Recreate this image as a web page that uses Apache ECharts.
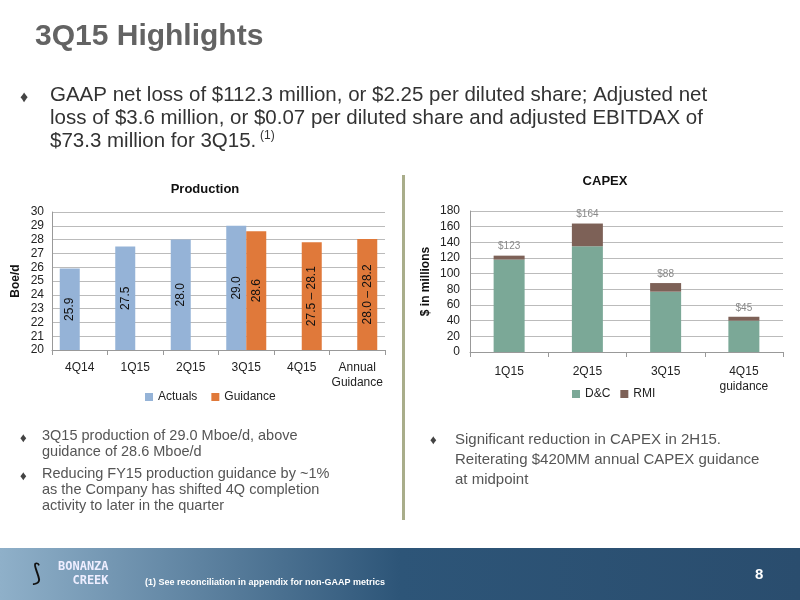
<!DOCTYPE html>
<html>
<head>
<meta charset="utf-8">
<script src="https://cdn.jsdelivr.net/npm/echarts@6/dist/echarts.min.js"></script>
<style>html,body{margin:0;padding:0;background:#fff}#main{width:800px;height:600px}</style>
</head>
<body>
<div id="main"></div>
<script>
// production data (Mboe/d)
var prodCats = ['4Q14', '1Q15', '2Q15', '3Q15', '4Q15', 'Annual\nGuidance'];
var actuals = [25.9, 27.5, 28.0, 29.0, null, null];
var guidance = [null, null, null, 28.6, 27.8, 28.05];
var guidanceLabels = ['', '', '', '28.6', '27.5 – 28.1', '28.0 – 28.2'];

// capex data ($MM)
var capexCats = ['1Q15', '2Q15', '3Q15', '4Q15\nguidance'];
var dc = [118, 135, 77, 40];
var rmi = [5, 29, 11, 5];
var capexTotals = ['$123', '$164', '$88', '$45'];

var chart = echarts.init(document.getElementById('main'));

var FONT = 'Liberation Sans';
var axisTxt = {color: '#222', fontSize: 12, fontFamily: FONT};

var option = {
    animation: false,
    textStyle: {fontFamily: FONT},
    title: [
        {text: 'Production', left: 200, top: 178, textAlign: 'center',
            textStyle: {fontSize: 13, fontWeight: 'bold', color: '#111'}},
        {text: 'CAPEX', left: 600, top: 170, textAlign: 'center',
            textStyle: {fontSize: 13, fontWeight: 'bold', color: '#111'}}
    ],
    legend: [
        {data: ['Actuals', 'Guidance'], left: 140, top: 386, itemWidth: 8, itemHeight: 8,
            icon: 'rect', itemGap: 14, textStyle: {fontSize: 12, color: '#222'}},
        {data: ['D&C', 'RMI'], left: 567, top: 383, itemWidth: 8, itemHeight: 8,
            icon: 'rect', itemGap: 10, textStyle: {fontSize: 12, color: '#222'}}
    ],
    grid: [
        {left: 52, top: 212, width: 333, height: 138},
        {left: 470, top: 211, width: 313, height: 141}
    ],
    xAxis: [
        {type: 'category', gridIndex: 0, data: prodCats,
            axisLine: {lineStyle: {color: '#999'}}, axisTick: {show: true, lineStyle: {color: '#999'}},
            axisLabel: Object.assign({interval: 0, margin: 10, lineHeight: 15}, axisTxt)},
        {type: 'category', gridIndex: 1, data: capexCats,
            axisLine: {lineStyle: {color: '#999'}}, axisTick: {show: true, lineStyle: {color: '#999'}},
            axisLabel: Object.assign({interval: 0, margin: 12, lineHeight: 15}, axisTxt)}
    ],
    yAxis: [
        {type: 'value', gridIndex: 0, min: 20, max: 30, interval: 1,
            name: 'Boe/d', nameLocation: 'middle', nameGap: 30,
            nameTextStyle: {fontWeight: 'bold', fontSize: 12, color: '#111'},
            axisLine: {show: true, lineStyle: {color: '#999'}},
            splitLine: {lineStyle: {color: '#bbb'}},
            axisLabel: Object.assign({margin: 8}, axisTxt)},
        {type: 'value', gridIndex: 1, min: 0, max: 180, interval: 20,
            name: '$ in millions', nameLocation: 'middle', nameGap: 38,
            nameTextStyle: {fontWeight: 'bold', fontSize: 12, color: '#111'},
            axisLine: {show: true, lineStyle: {color: '#999'}},
            splitLine: {lineStyle: {color: '#bbb'}},
            axisLabel: Object.assign({margin: 10}, axisTxt)}
    ],
    series: [
        {name: 'Actuals', type: 'bar', xAxisIndex: 0, yAxisIndex: 0, data: actuals,
            barWidth: 20, barGap: '0%', itemStyle: {color: '#95B3D7'},
            label: {show: true, position: 'inside', rotate: 90, fontSize: 12, color: '#111',
                formatter: function (p) { return p.value.toFixed(1); }}},
        {name: 'Guidance', type: 'bar', xAxisIndex: 0, yAxisIndex: 0, data: guidance,
            barWidth: 20, itemStyle: {color: '#E0793A'},
            label: {show: true, position: 'inside', rotate: 90, fontSize: 12, color: '#111',
                formatter: function (p) { return guidanceLabels[p.dataIndex]; }}},
        {name: 'D&C', type: 'bar', stack: 'c', xAxisIndex: 1, yAxisIndex: 1, data: dc,
            barWidth: 31, itemStyle: {color: '#7BA897'}},
        {name: 'RMI', type: 'bar', stack: 'c', xAxisIndex: 1, yAxisIndex: 1, data: rmi,
            barWidth: 31, itemStyle: {color: '#7D6157'},
            label: {show: true, position: 'top', fontSize: 10, color: '#888', distance: 4,
                formatter: function (p) { return capexTotals[p.dataIndex]; }}}
    ],
    graphic: [
        {type: 'text', left: 35, top: 22, style: {text: '3Q15 Highlights', fontSize: 30, fontWeight: 'bold', fill: '#636363', fontFamily: FONT}},
        {type: 'text', left: 20, top: 90, style: {text: '♦', fontSize: 16, fill: '#444'}},
        {type: 'text', left: 50, top: 84, style: {text: 'GAAP net loss of $112.3 million, or $2.25 per diluted share; Adjusted net\nloss of $3.6 million, or $0.07 per diluted share and adjusted EBITDAX of\n$73.3 million for 3Q15.', fontSize: 20.5, lineHeight: 23, fill: '#333', fontFamily: FONT}},
        {type: 'text', left: 260, top: 130, style: {text: '(1)', fontSize: 12, fill: '#333'}},
        {type: 'rect', shape: {x: 402, y: 175, width: 3, height: 345}, style: {fill: '#a9ad8a'}},
        {type: 'text', left: 20, top: 432, style: {text: '♦', fontSize: 13, fill: '#444'}},
        {type: 'text', left: 42, top: 428, style: {text: '3Q15 production of 29.0 Mboe/d, above\nguidance of 28.6 Mboe/d', fontSize: 14.5, lineHeight: 16, fill: '#555', fontFamily: FONT}},
        {type: 'text', left: 20, top: 470, style: {text: '♦', fontSize: 13, fill: '#444'}},
        {type: 'text', left: 42, top: 466, style: {text: 'Reducing FY15 production guidance by ~1%\nas the Company has shifted 4Q completion\nactivity to later in the quarter', fontSize: 14.5, lineHeight: 16, fill: '#555', fontFamily: FONT}},
        {type: 'text', left: 430, top: 434, style: {text: '♦', fontSize: 13, fill: '#444'}},
        {type: 'text', left: 455, top: 430, style: {text: 'Significant reduction in CAPEX in 2H15.\nReiterating $420MM annual CAPEX guidance\nat midpoint', fontSize: 15, lineHeight: 20, fill: '#555', fontFamily: FONT}},
        {type: 'rect', shape: {x: 0, y: 548, width: 800, height: 52},
            style: {fill: new echarts.graphic.LinearGradient(0, 0, 1, 0, [
                {offset: 0, color: '#8fb0c9'}, {offset: 0.5, color: '#2d5578'}, {offset: 1, color: '#2a4d6e'}])}},
        {type: 'text', left: 58, top: 560, style: {text: 'BONANZA\n  CREEK', fontSize: 12, lineHeight: 14, fill: '#eef', fontWeight: 'bold', fontFamily: 'DejaVu Sans Mono'}},
        {type: 'text', left: 32, top: 562, style: {text: '⟆', fontSize: 24, fill: '#111'}},
        {type: 'text', left: 145, top: 578, style: {text: '(1) See reconciliation in appendix for non-GAAP metrics', fontSize: 9, fill: '#fff', fontWeight: 'bold', fontFamily: FONT}},
        {type: 'text', left: 755, top: 567, style: {text: '8', fontSize: 15, fill: '#fff', fontWeight: 'bold', fontFamily: FONT}}
    ]
};

chart.setOption(option);
</script>
</body>
</html>
